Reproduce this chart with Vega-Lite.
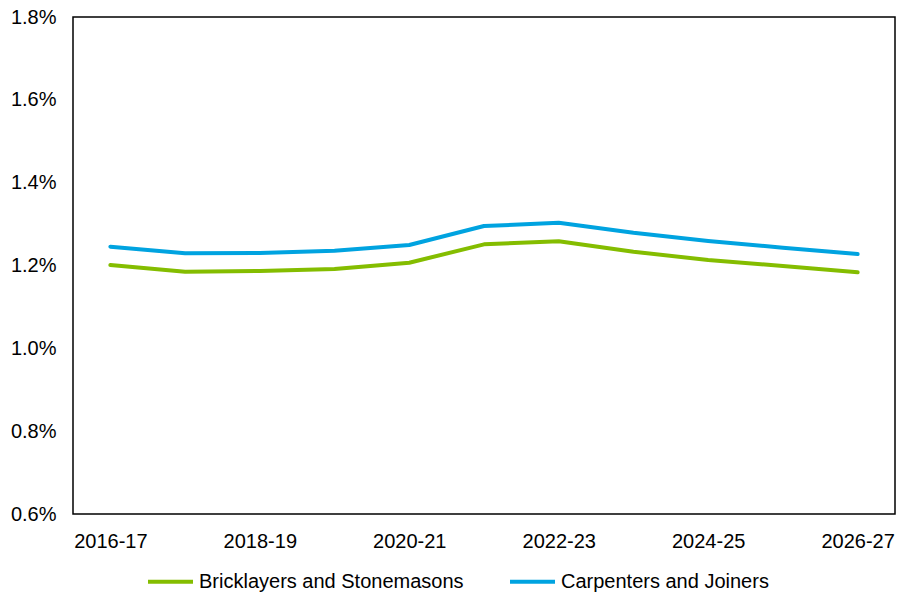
{
  "$schema": "https://vega.github.io/schema/vega-lite/v6.json",
  "width": 822,
  "height": 497,
  "autosize": {"type": "none"},
  "padding": {"left": 73, "top": 17, "right": 2, "bottom": 82},
  "background": "white",
  "config": {
    "font": "Liberation Sans",
    "view": {"stroke": "black", "strokeWidth": 1.5},
    "axis": {"labelFont": "Liberation Sans", "labelFontSize": 20, "labelColor": "black", "grid": false, "ticks": false, "domain": false, "title": null}
  },
  "data": {
    "values": [
      {"year": "2016-17", "series": "Bricklayers and Stonemasons", "value": 0.012012},
      {"year": "2017-18", "series": "Bricklayers and Stonemasons", "value": 0.01185},
      {"year": "2018-19", "series": "Bricklayers and Stonemasons", "value": 0.011867},
      {"year": "2019-20", "series": "Bricklayers and Stonemasons", "value": 0.011915},
      {"year": "2020-21", "series": "Bricklayers and Stonemasons", "value": 0.012067},
      {"year": "2021-22", "series": "Bricklayers and Stonemasons", "value": 0.012511},
      {"year": "2022-23", "series": "Bricklayers and Stonemasons", "value": 0.012584},
      {"year": "2023-24", "series": "Bricklayers and Stonemasons", "value": 0.012333},
      {"year": "2024-25", "series": "Bricklayers and Stonemasons", "value": 0.012132},
      {"year": "2025-26", "series": "Bricklayers and Stonemasons", "value": 0.011987},
      {"year": "2026-27", "series": "Bricklayers and Stonemasons", "value": 0.011835},
      {"year": "2016-17", "series": "Carpenters and Joiners", "value": 0.012453},
      {"year": "2017-18", "series": "Carpenters and Joiners", "value": 0.012294},
      {"year": "2018-19", "series": "Carpenters and Joiners", "value": 0.0123},
      {"year": "2019-20", "series": "Carpenters and Joiners", "value": 0.012357},
      {"year": "2020-21", "series": "Carpenters and Joiners", "value": 0.012494},
      {"year": "2021-22", "series": "Carpenters and Joiners", "value": 0.012953},
      {"year": "2022-23", "series": "Carpenters and Joiners", "value": 0.013033},
      {"year": "2023-24", "series": "Carpenters and Joiners", "value": 0.012791},
      {"year": "2024-25", "series": "Carpenters and Joiners", "value": 0.012591},
      {"year": "2025-26", "series": "Carpenters and Joiners", "value": 0.012429},
      {"year": "2026-27", "series": "Carpenters and Joiners", "value": 0.012277}
    ]
  },
  "mark": {"type": "line", "strokeWidth": 4, "strokeCap": "round", "strokeJoin": "round"},
  "encoding": {
    "x": {
      "field": "year", "type": "ordinal", "sort": null,
      "scale": {"type": "point", "padding": 0.5},
      "axis": {"labelAngle": 0, "labelPadding": 17, "values": ["2016-17", "2018-19", "2020-21", "2022-23", "2024-25", "2026-27"]}
    },
    "y": {
      "field": "value", "type": "quantitative",
      "scale": {"domain": [0.006, 0.018], "nice": false, "zero": false},
      "axis": {"format": ".1%", "values": [0.006, 0.008, 0.01, 0.012, 0.014, 0.016, 0.018], "labelPadding": 17}
    },
    "color": {
      "field": "series", "type": "nominal",
      "scale": {"domain": ["Bricklayers and Stonemasons", "Carpenters and Joiners"], "range": ["#84BD00", "#00A3E0"]},
      "legend": {
        "title": null, "orient": "none", "direction": "horizontal", "legendX": 73, "legendY": 540,
        "symbolType": "stroke", "symbolSize": 2025, "symbolStrokeWidth": 4, "labelLimit": 0,
        "labelFontSize": 20, "labelColor": "black", "labelFont": "Liberation Sans",
        "labelOffset": 4, "columnPadding": 38
      }
    }
  }
}
